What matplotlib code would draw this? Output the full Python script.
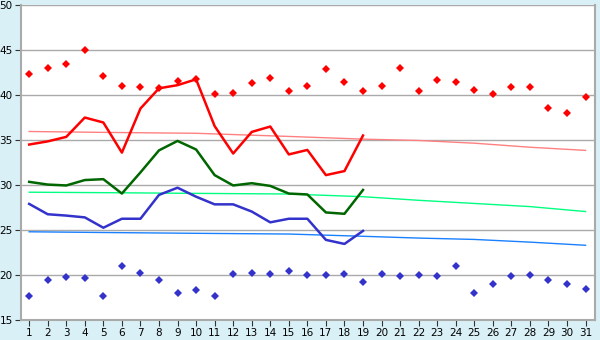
import matplotlib
matplotlib.use('Agg')
import matplotlib.pyplot as plt

days = list(range(1, 32))
days_obs = list(range(1, 20))

# daily maxima / minima (markers)
max_pts = [42.3, 43.0, 43.5, 45.0, 42.1, 41.0, 40.85, 40.8, 41.55, 41.8,
           40.1, 40.2, 41.3, 41.95, 40.5, 41.05, 42.85, 41.5, 40.4, 41.0,
           43.0, 40.5, 41.7, 41.4, 40.6, 40.1, 40.85, 40.85, 38.6, 37.95, 39.75]
min_pts = [17.65, 19.4, 19.75, 19.65, 17.65, 20.95, 20.2, 19.4, 17.95, 18.3,
           17.65, 20.1, 20.2, 20.1, 20.4, 20.0, 20.0, 20.1, 19.2, 20.1,
           19.85, 20.0, 19.85, 20.95, 17.95, 18.95, 19.85, 20.0, 19.4, 18.95, 18.4]

# observed series (days 1-19)
red_line = [34.5, 34.85, 35.35, 37.5, 36.95, 33.6, 38.5, 40.75, 41.1, 41.75,
            36.55, 33.5, 35.9, 36.5, 33.4, 33.9, 31.1, 31.55, 35.5]
green_line = [30.35, 30.05, 29.95, 30.55, 30.65, 29.05, 31.4, 33.85, 34.9, 33.95,
              31.1, 29.95, 30.2, 29.9, 29.05, 28.95, 26.95, 26.8, 29.45]
blue_line = [27.9, 26.75, 26.6, 26.4, 25.25, 26.25, 26.25, 28.9, 29.7, 28.7,
             27.85, 27.85, 27.05, 25.85, 26.25, 26.25, 23.9, 23.45, 24.9]

# trend curves
trend_days = [1, 5, 10, 15, 19, 22, 25, 28, 31]
red_trend = [35.95, 35.85, 35.75, 35.4, 35.1, 34.95, 34.65, 34.2, 33.85]
green_trend = [29.2, 29.15, 29.07, 29.0, 28.7, 28.3, 27.95, 27.6, 27.05]
blue_trend = [24.8, 24.72, 24.63, 24.55, 24.3, 24.1, 23.95, 23.65, 23.3]

bg = '#d9f0f7'
fig = plt.figure(figsize=(6, 3.4), dpi=100, facecolor=bg)
ax = fig.add_axes([0.035, 0.059, 0.957, 0.926])
ax.set_facecolor('white')

ax.plot(trend_days, red_trend, color='#ff8080', lw=1.0)
ax.plot(trend_days, green_trend, color='#00ff80', lw=1.0)
ax.plot(trend_days, blue_trend, color='#1a80ff', lw=1.0)

ax.plot(days_obs, red_line, color='#ff0000', lw=1.8)
ax.plot(days_obs, green_line, color='#006600', lw=1.8)
ax.plot(days_obs, blue_line, color='#3333cc', lw=1.8)

ax.plot(days, max_pts, 'D', color='#ff0000', ms=4.0, mew=0)
ax.plot(days, min_pts, 'D', color='#3333cc', ms=4.0, mew=0)

ax.set_xlim(0.56, 31.52)
ax.set_ylim(15, 50)
ax.set_xticks(days)
ax.set_yticks(range(15, 51, 5))
ax.yaxis.grid(True, color='#aaaaaa', lw=1.0)
ax.set_axisbelow(True)
ax.tick_params(axis='both', labelsize=7.5, length=4, color='#333333', pad=2)

for side in ('left', 'bottom', 'right'):
    ax.spines[side].set_color('#aaaaaa')
    ax.spines[side].set_linewidth(1.5)
ax.spines['top'].set_visible(False)

fig.savefig('out.png', dpi=100, facecolor=bg)
